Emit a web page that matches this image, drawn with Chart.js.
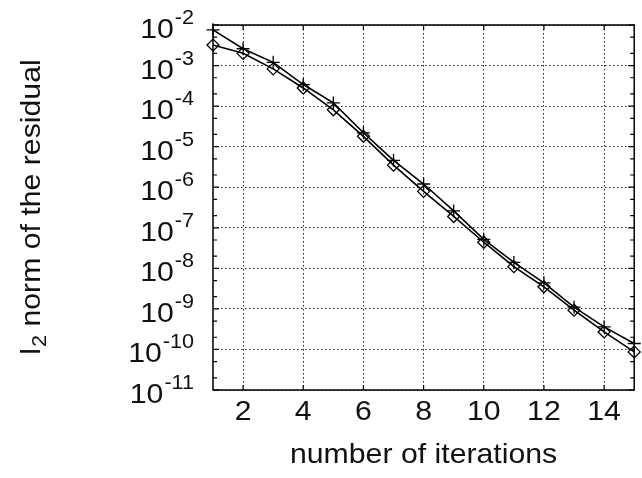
<!DOCTYPE html>
<html lang="en">
<head>
<meta charset="UTF-8">
<title>Residual history</title>
<script src="https://cdn.jsdelivr.net/npm/chart.js"></script>
<style>
  html, body { margin: 0; padding: 0; background: #fff; }
  canvas { display: block; }
</style>
</head>
<body>
<canvas id="grafico" width="642" height="478"></canvas>
<script>
// iterations and the two residual histories
const iterations = [1, 2, 3, 4, 5, 6, 7, 8, 9, 10, 11, 12, 13, 14, 15];
const residualCross = [7.6e-3, 2.6e-3, 1.2e-3, 3.4e-4, 1.2e-4, 2.2e-5, 4.6e-6, 1.2e-6,
                       2.6e-7, 5.2e-8, 1.4e-8, 4.4e-9, 1.1e-9, 3.6e-10, 1.4e-10];
const residualDiamond = [3.2e-3, 2.0e-3, 8.3e-4, 2.8e-4, 8.1e-5, 1.8e-5, 3.5e-6, 7.9e-7,
                         1.9e-7, 4.4e-8, 1.1e-8, 3.5e-9, 9.3e-10, 2.7e-10, 8.7e-11];
const xTicks = [2, 4, 6, 8, 10, 12, 14];
const yExponents = [-2, -3, -4, -5, -6, -7, -8, -9, -10, -11];

const FONT = '"Liberation Sans", Arial, Helvetica, sans-serif';
const ESTICA = 1.08; // slightly wide lettering

function pontos(valores) {
  return iterations.map((it, i) => ({ x: it, y: valores[i] }));
}

function largura(ctx, s, size) {
  ctx.font = size + 'px ' + FONT;
  return ctx.measureText(s).width * ESTICA;
}

function texto(ctx, s, x, y, size, align) {
  ctx.save();
  ctx.font = size + 'px ' + FONT;
  ctx.textAlign = align;
  ctx.textBaseline = 'alphabetic';
  ctx.translate(x, y);
  ctx.scale(ESTICA, 1);
  ctx.fillText(s, 0, 0);
  ctx.restore();
}

// frame, inward ticks, power-of-ten labels and axis titles
const moldura = {
  id: 'moldura',
  afterDraw(chart) {
    const ctx = chart.ctx;
    const a = chart.chartArea;
    const sx = chart.scales.x;
    const sy = chart.scales.y;
    ctx.save();
    ctx.strokeStyle = '#000';
    ctx.lineWidth = 1.2;

    ctx.beginPath();
    xTicks.forEach(v => {
      const px = sx.getPixelForValue(v);
      ctx.moveTo(px, a.bottom); ctx.lineTo(px, a.bottom - 5);
      ctx.moveTo(px, a.top); ctx.lineTo(px, a.top + 5);
    });
    yExponents.forEach(e => {
      const py = sy.getPixelForValue(Math.pow(10, e));
      ctx.moveTo(a.left, py); ctx.lineTo(a.left + 6, py);
      ctx.moveTo(a.right, py); ctx.lineTo(a.right - 6, py);
      [2, 5].forEach(m => {
        const pm = sy.getPixelForValue(m * Math.pow(10, e - 1));
        if (pm > a.bottom) return;
        ctx.moveTo(a.left, pm); ctx.lineTo(a.left + 4, pm);
        ctx.moveTo(a.right, pm); ctx.lineTo(a.right - 4, pm);
      });
    });
    ctx.stroke();

    ctx.lineWidth = 1.5;
    ctx.strokeRect(a.left, a.top, a.right - a.left, a.bottom - a.top);

    ctx.fillStyle = '#111';

    // x tick labels
    xTicks.forEach(v => texto(ctx, String(v), sx.getPixelForValue(v), 420, 28, 'center'));

    // y tick labels: 10 with a raised exponent
    const direita = 194;
    yExponents.forEach(e => {
      const py = sy.getPixelForValue(Math.pow(10, e));
      const exp = String(e);
      const w = largura(ctx, exp, 20);
      texto(ctx, exp, direita, py - 1, 20, 'right');
      texto(ctx, '10', direita - w - 1, py + 13, 28, 'right');
    });

    // x axis title
    texto(ctx, 'number of iterations', (a.left + a.right) / 2, 463, 28, 'center');

    // y axis title, rotated, with subscript 2
    ctx.translate(40, (a.top + a.bottom) / 2);
    ctx.rotate(-Math.PI / 2);
    const t1 = 'l';
    const t2 = '2';
    const t3 = ' norm of the residual';
    const w1 = largura(ctx, t1, 28);
    const w2 = largura(ctx, t2, 20);
    const w3 = largura(ctx, t3, 28);
    const x0 = -(w1 + w2 + w3) / 2;
    texto(ctx, t1, x0, 0, 28, 'left');
    texto(ctx, t2, x0 + w1 + 1, 6, 20, 'left');
    texto(ctx, t3, x0 + w1 + w2 + 1, 0, 28, 'left');
    ctx.restore();
  }
};

const fundo = {
  id: 'fundo',
  beforeDraw(chart) {
    const ctx = chart.ctx;
    ctx.save();
    ctx.fillStyle = '#fff';
    ctx.fillRect(0, 0, chart.width, chart.height);
    ctx.restore();
  }
};

const grafico = new Chart(document.getElementById('grafico'), {
  type: 'line',
  data: {
    datasets: [{
      label: 'cross',
      data: pontos(residualCross),
      borderColor: '#000',
      borderWidth: 1.6,
      pointStyle: 'cross',
      pointRadius: 6.5,
      pointBorderWidth: 1.3,
      pointBorderColor: '#000',
      pointBackgroundColor: 'rgba(0,0,0,0)',
      tension: 0,
      clip: false
    }, {
      label: 'diamond',
      data: pontos(residualDiamond),
      borderColor: '#000',
      borderWidth: 1.6,
      pointStyle: 'rectRot',
      pointRadius: 6,
      pointBorderWidth: 1.3,
      pointBorderColor: '#000',
      pointBackgroundColor: 'rgba(255,255,255,0)',
      tension: 0,
      clip: false
    }]
  },
  options: {
    responsive: false,
    animation: false,
    layout: { padding: { top: 25, right: 2, left: 0, bottom: 0 } },
    plugins: { legend: { display: false }, tooltip: { enabled: false } },
    scales: {
      x: {
        type: 'linear',
        min: 1,
        max: 15,
        afterBuildTicks: s => { s.ticks = xTicks.map(v => ({ value: v })); },
        afterFit: s => { s.height = 88; },
        ticks: { display: false },
        grid: { color: '#222', lineWidth: 1, drawTicks: false },
        border: { display: false, dash: [1.5, 2.5] }
      },
      y: {
        type: 'logarithmic',
        min: 1e-11,
        max: 1e-2,
        afterBuildTicks: s => { s.ticks = yExponents.map(e => ({ value: Math.pow(10, e) })); },
        afterFit: s => { s.width = 213; },
        ticks: { display: false },
        grid: { color: '#222', lineWidth: 1, drawTicks: false },
        border: { display: false, dash: [1.5, 2.5] }
      }
    }
  },
  plugins: [fundo, moldura]
});
</script>
</body>
</html>
